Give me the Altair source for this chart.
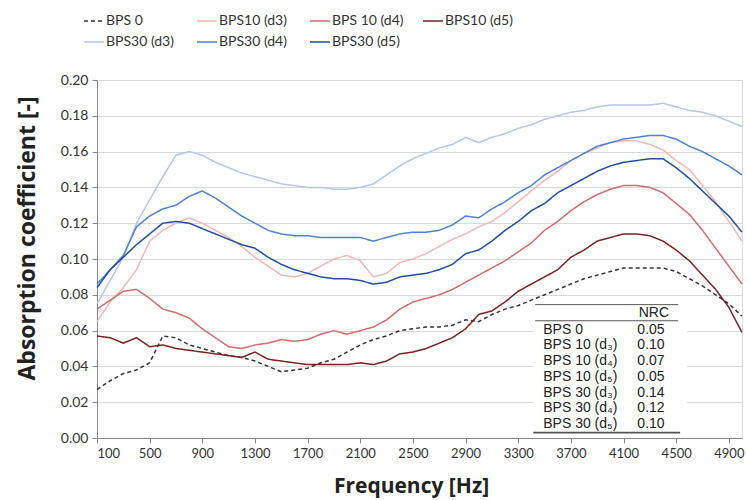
import altair as alt
import pandas as pd

freq = list(range(100, 5001, 100))

bps0 = [0.027, 0.032, 0.036, 0.038, 0.042, 0.057, 0.056, 0.052, 0.050, 0.048,
        0.046, 0.045, 0.043, 0.040, 0.037, 0.038, 0.039, 0.042, 0.044, 0.048,
        0.052, 0.055, 0.057, 0.060, 0.061, 0.062, 0.062, 0.063, 0.066, 0.065,
        0.069, 0.072, 0.074, 0.077, 0.080, 0.083, 0.086, 0.089, 0.091, 0.093,
        0.095, 0.095, 0.095, 0.095, 0.093, 0.089, 0.085, 0.080, 0.075, 0.068]
bps10_d3 = [0.065, 0.076, 0.084, 0.094, 0.110, 0.116, 0.120, 0.123, 0.120, 0.116,
            0.112, 0.107, 0.101, 0.096, 0.091, 0.090, 0.092, 0.096, 0.100, 0.102,
            0.099, 0.090, 0.092, 0.098, 0.100, 0.103, 0.107, 0.111, 0.114, 0.118,
            0.121, 0.126, 0.132, 0.138, 0.144, 0.149, 0.155, 0.159, 0.162, 0.165,
            0.166, 0.166, 0.164, 0.161, 0.155, 0.150, 0.141, 0.132, 0.121, 0.110]
bps10_d4 = [0.072, 0.077, 0.082, 0.083, 0.078, 0.072, 0.070, 0.067, 0.061, 0.056,
            0.051, 0.050, 0.052, 0.053, 0.055, 0.054, 0.055, 0.058, 0.060, 0.058,
            0.060, 0.062, 0.066, 0.072, 0.076, 0.078, 0.080, 0.083, 0.087, 0.091,
            0.095, 0.099, 0.104, 0.109, 0.116, 0.121, 0.127, 0.132, 0.136, 0.139,
            0.141, 0.141, 0.140, 0.137, 0.131, 0.125, 0.116, 0.106, 0.096, 0.086]
bps10_d5 = [0.057, 0.056, 0.053, 0.056, 0.051, 0.052, 0.050, 0.049, 0.048, 0.047,
            0.046, 0.045, 0.048, 0.044, 0.043, 0.042, 0.041, 0.041, 0.041, 0.041,
            0.042, 0.041, 0.043, 0.047, 0.048, 0.050, 0.053, 0.056, 0.061, 0.069,
            0.071, 0.076, 0.082, 0.086, 0.090, 0.094, 0.101, 0.105, 0.110, 0.112,
            0.114, 0.114, 0.113, 0.110, 0.105, 0.099, 0.091, 0.083, 0.073, 0.059]
bps30_d3 = [0.075, 0.088, 0.101, 0.120, 0.133, 0.146, 0.158, 0.160, 0.158, 0.154,
            0.151, 0.148, 0.146, 0.144, 0.142, 0.141, 0.140, 0.140, 0.139, 0.139,
            0.140, 0.142, 0.147, 0.152, 0.156, 0.159, 0.162, 0.164, 0.168, 0.165,
            0.168, 0.170, 0.173, 0.175, 0.178, 0.180, 0.182, 0.183, 0.185, 0.186,
            0.186, 0.186, 0.186, 0.187, 0.185, 0.183, 0.182, 0.180, 0.177, 0.174]
bps30_d4 = [0.086, 0.094, 0.102, 0.118, 0.124, 0.128, 0.130, 0.135, 0.138, 0.134,
            0.129, 0.124, 0.120, 0.116, 0.114, 0.113, 0.113, 0.112, 0.112, 0.112,
            0.112, 0.110, 0.112, 0.114, 0.115, 0.115, 0.116, 0.119, 0.124, 0.123,
            0.128, 0.132, 0.137, 0.141, 0.147, 0.151, 0.155, 0.159, 0.163, 0.165,
            0.167, 0.168, 0.169, 0.169, 0.167, 0.163, 0.160, 0.156, 0.152, 0.147]
bps30_d5 = [0.084, 0.094, 0.101, 0.108, 0.114, 0.120, 0.121, 0.120, 0.117, 0.114,
            0.111, 0.108, 0.106, 0.101, 0.097, 0.094, 0.092, 0.090, 0.089, 0.089,
            0.088, 0.086, 0.087, 0.090, 0.091, 0.092, 0.094, 0.097, 0.103, 0.105,
            0.110, 0.116, 0.121, 0.127, 0.131, 0.137, 0.141, 0.145, 0.149, 0.152,
            0.154, 0.155, 0.156, 0.156, 0.151, 0.145, 0.138, 0.131, 0.124, 0.115]

series_names = ["BPS 0", "BPS10 (d3)", "BPS 10 (d4)", "BPS10 (d5)",
                "BPS30 (d3)", "BPS30 (d4)", "BPS30 (d5)"]
series_values = [bps0, bps10_d3, bps10_d4, bps10_d5, bps30_d3, bps30_d4, bps30_d5]
series_colors = ["#333333", "#f2b8b8", "#d46a6a", "#7b2222",
                 "#b4c8e6", "#4f82d2", "#1f4f9e"]
series_dash = [[4, 3], [1, 0], [1, 0], [1, 0], [1, 0], [1, 0], [1, 0]]

x_ticks = list(range(100, 5000, 400))
y_ticks = [i / 100 for i in range(0, 21, 2)]

# NRC table (inset)
table_labels = ["BPS 0", "BPS 10 (d\u2083)", "BPS 10 (d\u2084)", "BPS 10 (d\u2085)",
                "BPS 30 (d\u2083)", "BPS 30 (d\u2084)", "BPS 30 (d\u2085)"]
table_nrc = ["0.05", "0.10", "0.07", "0.05", "0.14", "0.12", "0.10"]
table_row_y = [0.0605, 0.0517, 0.0429, 0.0342, 0.0253, 0.0166, 0.0080]

rows = []
for name, vals in zip(series_names, series_values):
    for f, v in zip(freq, vals):
        rows.append({"f": f, "v": v, "s": name})
df = pd.DataFrame(rows)

font = "Lato"

legend = alt.Legend(
    title=None, orient="none", legendX=-14, legendY=-70, columns=4,
    direction="horizontal", symbolType="stroke", symbolSize=400,
    symbolStrokeWidth=1.6, labelFont=font, labelFontSize=14, labelColor="#333333",
    gridAlign="all", columnPadding=15, rowPadding=3, labelOffset=1,
)

x_enc = alt.X("f:Q", scale=alt.Scale(domain=[100, 5000], nice=False, zero=False),
              axis=alt.Axis(values=x_ticks, tickCount=30, format="d", title="Frequency [Hz]",
                            grid=False,
                            labelFont=font, labelFontSize=13, labelColor="#333333",
                            labelOverlap=False,
                            titleFont="Open Sans", titleFontSize=21, titleFontWeight="bold",
                            titleColor="#222222", titlePadding=15, titleX=314,
                            tickColor="#888888", domainColor="#888888", tickSize=5,
                            labelPadding=4))
y_enc = alt.Y("v:Q", scale=alt.Scale(domain=[0, 0.2], nice=False),
              axis=alt.Axis(values=y_ticks, tickCount=30, format=".2f",
                            title="Absorption coefficient [-]",
                            labelFont=font, labelFontSize=14, labelColor="#333333",
                            labelOverlap=False,
                            titleFont="Open Sans", titleFontSize=23, titleFontWeight="bold",
                            titleColor="#222222", titleX=-58, titleY=158,
                            gridColor="#d9d9d9", gridWidth=1.2,
                            tickColor="#888888", domainColor="#888888", tickSize=5,
                            labelPadding=4))

lines = alt.Chart(df).mark_line(strokeWidth=1.5, interpolate="linear").encode(
    x=x_enc, y=y_enc,
    color=alt.Color("s:N", scale=alt.Scale(domain=series_names, range=series_colors),
                    sort=series_names, legend=legend),
    strokeDash=alt.StrokeDash("s:N", scale=alt.Scale(domain=series_names, range=series_dash),
                              sort=series_names, legend=legend),
)

box_df = pd.DataFrame({"x1": [3414], "x2": [4583], "y1": [0.001], "y2": [0.0772]})
box = alt.Chart(box_df).mark_rect(color="white").encode(
    x="x1:Q", x2="x2:Q", y="y1:Q", y2="y2:Q")

rule_df = pd.DataFrame({"x1": [3429, 3429, 3414], "x2": [4515, 4515, 4530],
                        "y": [0.0745, 0.0655, 0.0030], "w": [1.0, 1.0, 1.6]})
rules = alt.Chart(rule_df).mark_rule(color="#555555").encode(
    x="x1:Q", x2="x2:Q", y="y:Q", strokeWidth=alt.StrokeWidth("w:Q", scale=None))

tab_df = pd.DataFrame({"label": table_labels, "nrc": table_nrc, "y": table_row_y,
                       "xl": [3490] * 7, "xv": [4205] * 7})
tfont = "Liberation Sans"
tlabels = alt.Chart(tab_df).mark_text(align="left", baseline="middle", font=tfont,
                                      fontSize=14, color="#222222").encode(
    x="xl:Q", y="y:Q", text="label:N")
tvals = alt.Chart(tab_df).mark_text(align="left", baseline="middle", font=tfont,
                                    fontSize=14, color="#222222").encode(
    x="xv:Q", y="y:Q", text="nrc:N")
head_df = pd.DataFrame({"x": [4215], "y": [0.0700], "t": ["NRC"]})
thead = alt.Chart(head_df).mark_text(align="left", baseline="middle", font=tfont,
                                     fontSize=14, color="#222222").encode(
    x="x:Q", y="y:Q", text="t:N")

chart = alt.layer(lines, box, rules, tlabels, tvals, thead).properties(
    width=645, height=358,
    autosize=alt.AutoSizeParams(type="none"),
    padding={"left": 97, "top": 80, "right": 5, "bottom": 62},
).configure_view(stroke=None).configure(background="white")

chart.save("out.html", embed_options={"renderer": "svg", "actions": False})
